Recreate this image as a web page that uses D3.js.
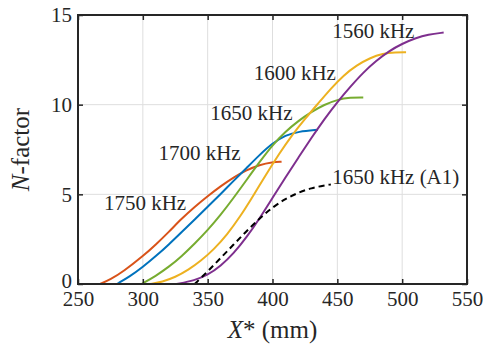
<!DOCTYPE html>
<html>
<head>
<meta charset="utf-8">
<script src="https://cdn.jsdelivr.net/npm/d3@7"></script>
<style>
  body { margin: 0; background: #fff; }
  svg text { font-family: "Liberation Serif", "Times New Roman", serif; fill: #262626; }
</style>
</head>
<body>
<svg id="chart" width="483" height="347"></svg>
<script>
// N-factor curves, [X* (mm), N]
const xTicks = [250, 300, 350, 400, 450, 500, 550];
const yTicks = [0, 5, 10, 15];

const f1750 = [[267,0],[275,0.25],[285,0.7],[300,1.55],[310,2.2],[320,2.9],[330,3.65],[340,4.3],[350,4.9],[360,5.45],[370,5.95],[380,6.35],[390,6.65],[400,6.8],[407,6.82]];
const f1700 = [[280,0],[290,0.42],[300,0.95],[310,1.55],[320,2.2],[330,2.9],[340,3.6],[350,4.3],[360,5.02],[370,5.75],[380,6.47],[390,7.2],[400,7.85],[410,8.3],[420,8.5],[435,8.6]];
const f1650 = [[299,0],[310,0.45],[320,0.95],[330,1.55],[340,2.25],[350,3.0],[360,3.85],[370,4.8],[380,5.8],[390,6.8],[400,7.75],[410,8.5],[420,9.1],[430,9.6],[440,10.0],[450,10.28],[460,10.4],[470,10.4]];
const f1600 = [[305.5,0],[315,0.12],[325,0.38],[335,0.78],[345,1.3],[355,1.95],[365,2.75],[375,3.75],[385,4.9],[395,6.1],[405,7.25],[415,8.3],[425,9.2],[435,10.05],[445,10.9],[455,11.65],[465,12.2],[475,12.6],[485,12.85],[495,12.92],[503,12.92]];
const f1560 = [[326,0],[340,0.2],[350,0.5],[360,1.0],[370,1.7],[380,2.6],[390,3.65],[400,4.8],[410,5.95],[420,7.05],[430,8.15],[440,9.2],[450,10.15],[460,11.0],[470,11.8],[480,12.45],[490,13.0],[500,13.4],[510,13.7],[520,13.92],[532,14.02]];
const f1650A1 = [[340,0],[350,0.7],[360,1.45],[370,2.2],[380,2.95],[390,3.65],[400,4.28],[410,4.75],[420,5.1],[430,5.35],[440,5.5],[445,5.55]];

const seriesNames = ['1750 kHz', '1700 kHz', '1650 kHz', '1600 kHz', '1560 kHz', '1650 kHz (A1)'];
const seriesData = [f1750, f1700, f1650, f1600, f1560, f1650A1];
const colors = ['#D95319', '#0072BD', '#77AC30', '#EDB120', '#7E2F8E', '#000000'];

// label spots in data units (x, y of text baseline start)
const labelAt = [[270, 4.1], [312, 6.9], [352, 9.15], [385.5, 11.4], [446, 13.7], [446, 5.6]];

const svg = d3.select('#chart');
const margin = {left: 78, top: 15, right: 16, bottom: 63};
const w = 483 - margin.left - margin.right;
const h = 347 - margin.top - margin.bottom;

const x = d3.scaleLinear().domain([250, 550]).range([0, w]);
const y = d3.scaleLinear().domain([0, 15]).range([h, 0]);

const g = svg.append('g').attr('transform', `translate(${margin.left},${margin.top})`);

// grid
g.append('g').attr('class', 'grid').selectAll('line').data(xTicks).enter().append('line')
  .attr('x1', d => x(d)).attr('x2', d => x(d)).attr('y1', 0).attr('y2', h)
  .attr('stroke', '#dedede').attr('stroke-width', 1);
g.append('g').attr('class', 'grid').selectAll('line').data(yTicks).enter().append('line')
  .attr('y1', d => y(d)).attr('y2', d => y(d)).attr('x1', 0).attr('x2', w)
  .attr('stroke', '#dedede').attr('stroke-width', 1);

// curves
const line = d3.line().x(d => x(d[0])).y(d => y(d[1])).curve(d3.curveBasis);
seriesData.forEach((d, i) => {
  g.append('path').datum(d)
    .attr('fill', 'none')
    .attr('stroke', colors[i])
    .attr('stroke-width', 2)
    .attr('stroke-dasharray', i === 5 ? '6,4' : null)
    .attr('d', line);
});

// axes, ticks inside on all four sides
const tickFont = g => g.selectAll('text').attr('font-size', 21).style('font-family', '"Liberation Serif", serif').attr('fill', '#262626');
g.append('g').attr('class', 'xaxis').attr('transform', `translate(0,${h})`)
  .call(d3.axisBottom(x).tickValues(xTicks).tickSize(-5).tickPadding(10).tickSizeOuter(0))
  .call(tickFont);
g.append('g').attr('class', 'yaxis')
  .call(d3.axisLeft(y).tickValues(yTicks).tickSize(-5).tickPadding(6).tickSizeOuter(0))
  .call(tickFont);
g.append('g').call(d3.axisTop(x).tickValues(xTicks).tickSize(-5).tickSizeOuter(0).tickFormat(''));
g.append('g').attr('transform', `translate(${w},0)`)
  .call(d3.axisRight(y).tickValues(yTicks).tickSize(-5).tickSizeOuter(0).tickFormat(''));
g.selectAll('.domain').attr('stroke', 'none');
g.selectAll('.tick line').attr('stroke', '#262626').attr('stroke-width', 1.5);
g.selectAll('.xaxis .tick text').attr('dy', null).attr('y', 22);
g.selectAll('.yaxis .tick text').attr('dy', '0.32em');
// keep the "0" clear of the "250" below it
g.selectAll('.yaxis .tick text').filter(d => d === 0).attr('dy', '0.15em');

// box
g.append('rect').attr('width', w).attr('height', h)
  .attr('fill', 'none').attr('stroke', '#262626').attr('stroke-width', 2);

// curve labels
g.selectAll('.lbl').data(seriesNames).enter().append('text')
  .attr('class', 'lbl')
  .attr('x', (d, i) => x(labelAt[i][0]))
  .attr('y', (d, i) => y(labelAt[i][1]))
  .attr('font-size', 21)
  .text(d => d);

// axis titles
const xt = svg.append('text').attr('x', margin.left + w / 2).attr('y', 338)
  .attr('text-anchor', 'middle').attr('font-size', 25);
xt.append('tspan').attr('font-style', 'italic').text('X');
xt.append('tspan').text('* (mm)');

const yt = svg.append('text').attr('transform', `translate(29,${margin.top + h / 2}) rotate(-90)`)
  .attr('text-anchor', 'middle').attr('font-size', 25);
yt.append('tspan').attr('font-style', 'italic').text('N');
yt.append('tspan').text('-factor');
</script>
</body>
</html>
